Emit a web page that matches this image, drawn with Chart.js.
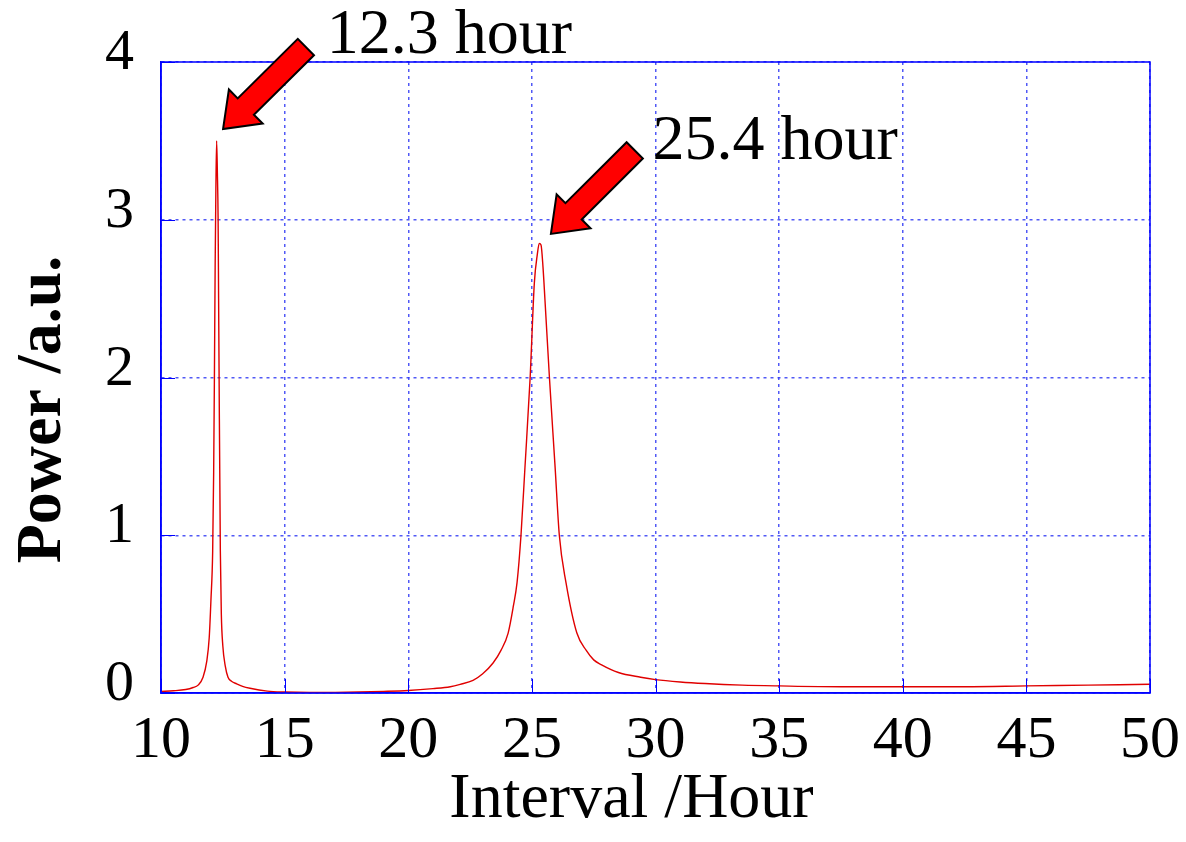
<!DOCTYPE html>
<html>
<head>
<meta charset="utf-8">
<script src="https://cdn.jsdelivr.net/npm/chart.js@4/dist/chart.umd.min.js"></script>
<style>
  html, body { margin: 0; padding: 0; background: #fff; }
  #wrap { width: 1186px; height: 842px; }
</style>
</head>
<body>
<div id="wrap"><canvas id="powerCanvas"></canvas></div>
<script>
// Power spectrum
const intervalHours = [
  10, 10.5, 11, 11.3, 11.5, 11.7, 11.85, 11.95, 12.02, 12.09, 12.13, 12.16, 12.19, 12.22, 12.25,
  12.28, 12.31, 12.33, 12.35, 12.4, 12.44, 12.5, 12.6, 12.71, 12.85, 13.06, 13.3, 13.6, 14.3,
  15, 16, 17, 18, 19, 20, 21, 21.7, 22.1, 22.62, 23, 23.43, 23.75, 24.04, 24.25, 24.4, 24.56,
  24.72, 24.93, 25.1, 25.22, 25.3, 25.37, 25.45, 25.53, 25.71, 25.94, 26.11, 26.38, 26.82,
  27.2, 27.5, 27.8, 28.5, 29.4, 30, 31, 32, 33.5, 35, 37.5, 40, 42.5, 45, 47.5, 50
];
const powerValues = [
  0.01, 0.014, 0.022, 0.035, 0.05, 0.1, 0.2, 0.35, 0.59, 0.9, 1.4, 2.0, 2.7, 3.2, 3.5,
  3.3, 3.0, 2.5, 2.0, 0.9, 0.5, 0.3, 0.17, 0.1, 0.075, 0.058, 0.042, 0.03, 0.012,
  0.006, 0.003, 0.004, 0.006, 0.01, 0.016, 0.028, 0.04, 0.055, 0.08, 0.12, 0.19, 0.27, 0.38, 0.55, 0.7, 1.0,
  1.43, 2.0, 2.6, 2.78, 2.85, 2.84, 2.7, 2.49, 2.0, 1.43, 1.0, 0.7, 0.38,
  0.27, 0.21, 0.18, 0.13, 0.1, 0.085, 0.07, 0.06, 0.05, 0.045, 0.04, 0.04, 0.04, 0.045, 0.05, 0.055
];

const xTicks = [10, 15, 20, 25, 30, 35, 40, 45, 50];
const yTicks = [0, 1, 2, 3, 4];

// Arrow annotations: [tailX, tailY, tipX, tipY] in data units, and their labels
const arrowLines = [
  [15.86, 4.095, 12.51, 3.575],
  [29.16, 3.44, 25.77, 2.91]
];
const arrowLabels = ['12.3 hour', '25.4 hour'];
const labelAnchors = [[16.7, 4.057], [29.88, 3.385]];

const SERIF = "'Liberation Serif', 'Times New Roman', serif";

// Blue box all around the plot area, plus short inward tick marks
const frameBox = {
  id: 'frameBox',
  afterDatasetsDraw(chart) {
    const { ctx, chartArea: a, scales: { x, y } } = chart;
    ctx.save();
    ctx.strokeStyle = '#0000ff';
    ctx.lineWidth = 1;
    ctx.beginPath();
    xTicks.forEach(v => {
      const px = Math.round(x.getPixelForValue(v)) + 0.5;
      ctx.moveTo(px, a.bottom); ctx.lineTo(px, a.bottom - 14);
    });
    yTicks.forEach(v => {
      const py = Math.round(y.getPixelForValue(v)) + 0.5;
      ctx.moveTo(a.left, py); ctx.lineTo(a.left + 14, py);
    });
    ctx.stroke();
    ctx.lineWidth = 1.5;
    ctx.strokeRect(a.left, a.top, a.right - a.left, a.bottom - a.top);
    ctx.restore();
  }
};

// Red block arrows with black outline and their text
const arrowNotes = {
  id: 'arrowNotes',
  afterDraw(chart) {
    const { ctx, scales: { x, y } } = chart;
    ctx.save();
    arrowLines.forEach((a, i) => {
      const x0 = x.getPixelForValue(a[0]), y0 = y.getPixelForValue(a[1]);
      const x1 = x.getPixelForValue(a[2]), y1 = y.getPixelForValue(a[3]);
      const len = Math.hypot(x1 - x0, y1 - y0);
      const ang = Math.atan2(y1 - y0, x1 - x0);
      const headLen = 32, headHalf = 24, shaftHalf = 11.5;
      ctx.save();
      ctx.translate(x0, y0);
      ctx.rotate(ang);
      ctx.beginPath();
      ctx.moveTo(0, -shaftHalf);
      ctx.lineTo(len - headLen, -shaftHalf);
      ctx.lineTo(len - headLen, -headHalf);
      ctx.lineTo(len, 0);
      ctx.lineTo(len - headLen, headHalf);
      ctx.lineTo(len - headLen, shaftHalf);
      ctx.lineTo(0, shaftHalf);
      ctx.closePath();
      ctx.fillStyle = '#ff0000';
      ctx.fill();
      ctx.lineWidth = 2;
      ctx.strokeStyle = '#000';
      ctx.lineJoin = 'miter';
      ctx.stroke();
      ctx.restore();

      ctx.fillStyle = '#000';
      ctx.font = `64px ${SERIF}`;
      ctx.textAlign = 'left';
      ctx.textBaseline = 'alphabetic';
      ctx.fillText(arrowLabels[i], x.getPixelForValue(labelAnchors[i][0]), y.getPixelForValue(labelAnchors[i][1]));
    });
    ctx.restore();
  }
};

const gridBlue = 'rgba(50, 60, 245, 0.85)';

const ctx = document.getElementById('powerCanvas').getContext('2d');
new Chart(ctx, {
  type: 'line',
  data: {
    datasets: [{
      label: 'Power',
      data: intervalHours.map((h, i) => ({ x: h, y: powerValues[i] })),
      borderColor: '#e00000',
      borderWidth: 1.4,
      pointRadius: 0,
      cubicInterpolationMode: 'monotone',
      fill: false
    }]
  },
  options: {
    responsive: true,
    maintainAspectRatio: false,
    animation: false,
    layout: { padding: { top: 62, right: 36, left: 0, bottom: 0 } },
    plugins: {
      legend: { display: false },
      tooltip: { enabled: false }
    },
    scales: {
      x: {
        type: 'linear',
        min: 10,
        max: 50,
        afterBuildTicks: (s) => { s.ticks = xTicks.map(v => ({ value: v })); },
        afterFit: (s) => { s.height = 149; s.paddingRight = 0; s.paddingLeft = 0; },
        grid: { color: gridBlue, lineWidth: 1.5, drawTicks: false },
        border: { display: true, color: '#0000ff', width: 1.5, dash: [3, 4] },
        ticks: { color: '#000', padding: 18, maxRotation: 0, font: { family: SERIF, size: 60, lineHeight: 1 } },
        title: {
          display: true,
          text: 'Interval /Hour   ',
          color: '#000',
          padding: { top: 0, bottom: 10 },
          font: { family: SERIF, size: 64, lineHeight: 1 }
        }
      },
      y: {
        min: 0,
        max: 4,
        afterBuildTicks: (s) => { s.ticks = yTicks.map(v => ({ value: v })); },
        afterFit: (s) => { s.width = 161; s.paddingTop = 0; s.paddingBottom = 0; },
        grid: { color: gridBlue, lineWidth: 1.5, drawTicks: false },
        border: { display: true, color: '#0000ff', width: 1.5, dash: [3, 4] },
        ticks: { color: '#000', padding: 27, labelOffset: -8, font: { family: SERIF, size: 58, lineHeight: 1 } },
        title: {
          display: true,
          text: 'Power /a.u.    ',
          color: '#000',
          padding: { top: 11, bottom: 0 },
          font: { family: SERIF, size: 64, weight: 'bold', lineHeight: 1 }
        }
      }
    }
  },
  plugins: [frameBox, arrowNotes]
});
</script>
</body>
</html>
